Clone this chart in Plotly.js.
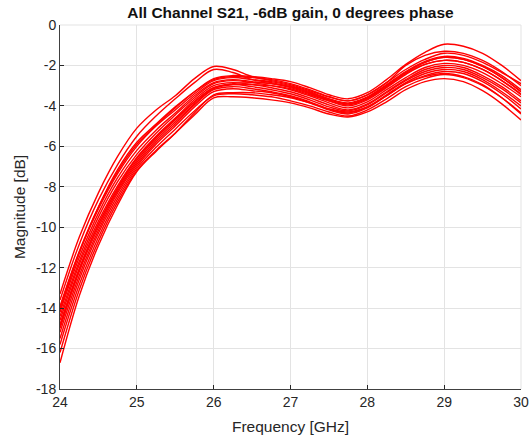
<!DOCTYPE html>
<html>
<head>
<meta charset="utf-8">
<script src="https://cdn.plot.ly/plotly-3.0.1.min.js"></script>
<style>
  html, body { margin: 0; padding: 0; background: #ffffff; }
  #chart { width: 529px; height: 438px; }
</style>
</head>
<body>
<div id="chart"></div>
<script>
// Frequency sweep points [GHz]
const freqGHz = [24, 24.25, 24.5, 24.75, 25, 25.25, 25.5, 25.75, 26, 26.25, 26.5, 26.75,
                 27, 27.25, 27.5, 27.75, 28, 28.25, 28.5, 28.75, 29, 29.25, 29.5, 29.75, 30];

// Measured S21 magnitude per channel [dB]
const ch01 = [-13.3, -10.5, -8.3, -6.5, -5.1, -4.2, -3.5, -2.65, -2.05, -2.2, -2.55, -2.75,
              -2.95, -3.25, -3.55, -3.75, -3.45, -2.85, -2.0, -1.5, -1.3, -1.4, -1.75, -2.3, -3.0];
const ch02 = [-13.6, -10.85, -8.65, -6.9, -5.5, -4.5, -3.65, -2.85, -2.2, -2.35, -2.7, -2.85,
              -3.05, -3.35, -3.65, -3.85, -3.55, -2.95, -2.3, -1.8, -1.55, -1.65, -2.0, -2.5, -3.2];
const ch03 = [-13.9, -11.2, -9.0, -7.25, -5.9, -4.95, -4.1, -3.3, -2.65, -2.5, -2.55, -2.65,
              -2.8, -3.1, -3.45, -3.65, -3.35, -2.7, -1.95, -1.35, -0.95, -1.05, -1.4, -2.0, -2.75];
const ch04 = [-14.0, -11.25, -9.1, -7.35, -6.0, -5.0, -4.2, -3.4, -2.75, -2.6, -2.7, -2.8,
              -3.0, -3.3, -3.65, -3.9, -3.6, -3.0, -2.35, -1.85, -1.6, -1.7, -2.05, -2.6, -3.3];
const ch05 = [-14.2, -11.5, -9.3, -7.55, -6.2, -5.2, -4.35, -3.5, -2.85, -2.7, -2.8, -2.9,
              -3.1, -3.4, -3.75, -4.0, -3.7, -3.1, -2.45, -1.95, -1.75, -1.85, -2.2, -2.75, -3.45];
const ch06 = [-14.4, -11.7, -9.5, -7.75, -6.4, -5.35, -4.45, -3.6, -2.9, -2.75, -2.85, -3.0,
              -3.2, -3.5, -3.85, -4.1, -3.8, -3.2, -2.6, -2.1, -1.9, -2.0, -2.35, -2.9, -3.55];
const ch07 = [-14.6, -11.85, -9.7, -7.95, -6.55, -5.5, -4.6, -3.7, -3.0, -2.85, -2.95, -3.1,
              -3.3, -3.6, -3.95, -4.2, -3.9, -3.3, -2.7, -2.2, -2.0, -2.1, -2.5, -3.05, -3.75];
const ch08 = [-14.8, -12.05, -9.85, -8.1, -6.7, -5.6, -4.7, -3.8, -3.1, -2.95, -3.05, -3.2,
              -3.4, -3.7, -4.05, -4.25, -3.95, -3.35, -2.75, -2.3, -2.1, -2.2, -2.6, -3.15, -3.85];
const ch09 = [-15.0, -12.2, -10.0, -8.2, -6.8, -5.7, -4.8, -3.9, -3.15, -2.95, -2.95, -3.0,
              -3.15, -3.45, -3.75, -3.95, -3.65, -3.05, -2.4, -1.95, -1.75, -1.85, -2.2, -2.75, -3.4];
const ch10 = [-15.2, -12.4, -10.15, -8.3, -6.9, -5.8, -4.9, -3.95, -3.2, -3.05, -3.15, -3.3,
              -3.5, -3.8, -4.15, -4.35, -4.05, -3.45, -2.85, -2.4, -2.2, -2.3, -2.7, -3.3, -4.0];
const ch11 = [-15.5, -12.6, -10.3, -8.45, -7.0, -5.9, -5.0, -4.05, -3.3, -3.15, -3.25, -3.35,
              -3.55, -3.85, -4.2, -4.4, -4.1, -3.5, -2.9, -2.5, -2.3, -2.4, -2.8, -3.4, -4.15];
const ch12 = [-15.8, -12.85, -10.5, -8.6, -7.1, -6.05, -5.15, -4.25, -3.5, -3.4, -3.45, -3.55,
              -3.75, -4.0, -4.3, -4.5, -4.2, -3.65, -3.05, -2.65, -2.45, -2.6, -3.0, -3.6, -4.35];
const ch13 = [-16.2, -13.1, -10.7, -8.75, -7.2, -6.2, -5.35, -4.45, -3.6, -3.55, -3.6, -3.7,
              -3.85, -4.1, -4.4, -4.55, -4.3, -3.8, -3.2, -2.8, -2.65, -2.8, -3.25, -3.9, -4.7];
const ch14 = [-16.7, -13.4, -10.9, -8.9, -7.25, -6.25, -5.35, -4.35, -3.45, -3.35, -3.35, -3.45,
              -3.6, -3.85, -4.15, -4.3, -4.05, -3.5, -2.9, -2.55, -2.4, -2.55, -2.95, -3.6, -4.4];
const ch15 = [-14.1, -11.3, -9.0, -7.15, -5.8, -4.9, -4.05, -3.3, -2.7, -2.55, -2.6, -2.7,
              -2.9, -3.2, -3.55, -3.75, -3.45, -2.85, -2.2, -1.7, -1.4, -1.5, -1.85, -2.35, -2.9];
const ch16 = [-14.9, -12.1, -9.85, -8.05, -6.6, -5.55, -4.65, -3.8, -3.1, -2.9, -2.85, -2.9,
              -3.05, -3.35, -3.7, -3.9, -3.6, -3.0, -2.35, -1.85, -1.6, -1.7, -2.05, -2.6, -3.3];

const channels = [ch01, ch02, ch03, ch04, ch05, ch06, ch07, ch08,
                  ch09, ch10, ch11, ch12, ch13, ch14, ch15, ch16];

const xTicks = [24, 25, 26, 27, 28, 29, 30];
const yTicks = [0, -2, -4, -6, -8, -10, -12, -14, -16, -18];

const traces = channels.map((mag, i) => ({
  type: 'scatter',
  mode: 'lines',
  name: 'Ch ' + (i + 1),
  x: freqGHz,
  y: mag,
  line: { color: '#ff0000', width: 1.4, shape: 'spline', smoothing: 1 },
  hoverinfo: 'skip'
}));

const axisInk = '#262626';
const gridInk = '#e3e3e3';
const fontFamily = 'Arial, "Liberation Sans", Helvetica, sans-serif';

const layout = {
  width: 529,
  height: 438,
  margin: { l: 60, r: 7.5, t: 24.5, b: 48.5, pad: 0 },
  paper_bgcolor: '#ffffff',
  plot_bgcolor: '#ffffff',
  showlegend: false,
  font: { family: fontFamily, size: 14, color: axisInk },
  title: {
    text: '<b>All Channel S21, -6dB gain, 0 degrees phase</b>',
    font: { family: fontFamily, size: 15.5, color: '#111111' },
    xref: 'paper', x: 0.5, xanchor: 'center',
    yref: 'container', y: 1 - 13 / 438, yanchor: 'middle'
  },
  xaxis: {
    range: [24, 30],
    tickvals: xTicks,
    ticktext: xTicks.map(String),
    ticks: 'inside', ticklen: 4, tickwidth: 1, tickcolor: axisInk,
    showline: true, linecolor: '#404040', linewidth: 1,
    showgrid: true, gridcolor: gridInk, gridwidth: 1,
    zeroline: false,
    tickfont: { size: 14, color: axisInk },
    title: { text: 'Frequency [GHz]', font: { size: 15.5, color: axisInk }, standoff: 12 }
  },
  yaxis: {
    range: [-18, 0],
    tickvals: yTicks,
    ticktext: yTicks.map(String),
    ticks: 'inside', ticklen: 4, tickwidth: 1, tickcolor: axisInk,
    showline: true, linecolor: '#404040', linewidth: 1,
    showgrid: true, gridcolor: gridInk, gridwidth: 1,
    zeroline: false,
    tickfont: { size: 14, color: axisInk },
    title: { text: 'Magnitude [dB]', font: { size: 15.5, color: axisInk }, standoff: 6 }
  },
  shapes: [
    { type: 'line', xref: 'paper', yref: 'paper', x0: 0, x1: 1, y0: 1, y1: 1,
      line: { color: gridInk, width: 1 }, layer: 'below' },
    { type: 'line', xref: 'paper', yref: 'paper', x0: 1, x1: 1, y0: 0, y1: 1,
      line: { color: gridInk, width: 1 }, layer: 'below' }
  ]
};

Plotly.newPlot('chart', traces, layout, { displayModeBar: false, staticPlot: true });
</script>
</body>
</html>
